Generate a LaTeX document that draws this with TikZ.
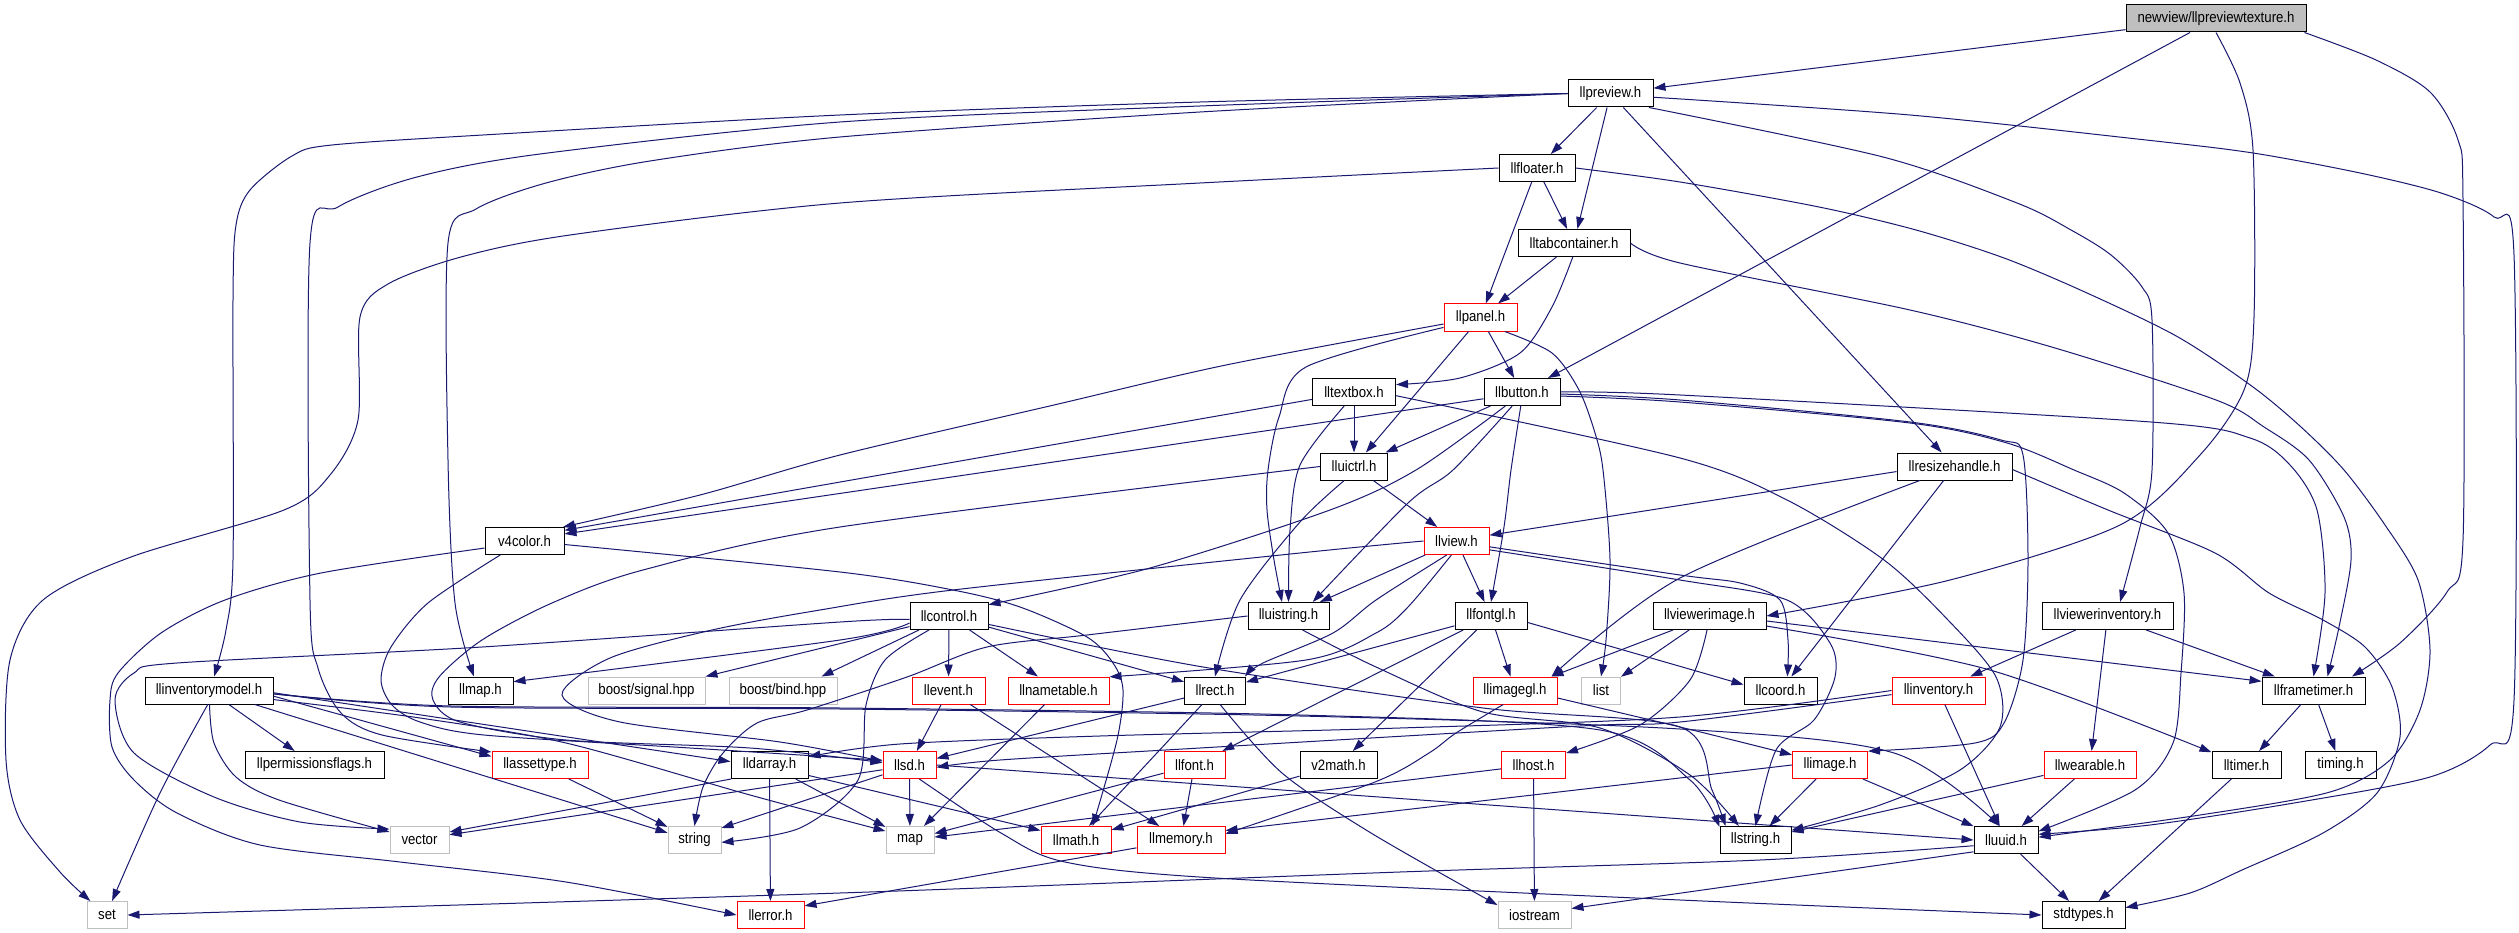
\documentclass[tikz,border=0pt]{standalone}
\usepackage{fontspec}
\newfontfamily\dfont[FakeStretch=0.88]{Liberation Sans}
\usetikzlibrary{arrows.meta}
\definecolor{edgec}{RGB}{25,25,112}
\definecolor{grayb}{RGB}{191,191,191}
\begin{document}
\begin{tikzpicture}[x=1pt,y=-1pt,
  nd/.style={draw=black, line width=1pt, minimum height=27pt, inner sep=0pt, font=\dfont\fontsize{15}{18}\selectfont},
  rn/.style={nd, draw=red},
  gn/.style={nd, draw=grayb},
  e/.style={draw=edgec, line width=1pt, -{Triangle[length=12pt,width=8pt]}}]
\fill[white] (0,0) rectangle (2519,933);
\useasboundingbox (0,0) rectangle (2519,933);
% ---------- nodes ----------
\node[nd, fill=grayb, minimum width=180pt] (root) at (2216,18.5) {newview/llpreviewtexture.h};
\node[nd, minimum width=85pt] (preview) at (1610.5,93.5) {llpreview.h};
\node[nd, minimum width=76pt] (floater) at (1537,168) {llfloater.h};
\node[nd, minimum width=112pt] (tabc) at (1574,243) {lltabcontainer.h};
\node[rn, minimum width=73pt] (panel) at (1480.5,317.5) {llpanel.h};
\node[nd, minimum width=83pt] (textbox) at (1354,392) {lltextbox.h};
\node[nd, minimum width=76pt] (button) at (1522,392) {llbutton.h};
\node[nd, minimum width=67pt] (uictrl) at (1354,466.5) {lluictrl.h};
\node[nd, minimum width=115pt] (resize) at (1954.5,466.5) {llresizehandle.h};
\node[nd, minimum width=79pt] (vfour) at (524.5,541) {v4color.h};
\node[rn, minimum width=65pt] (view) at (1456.5,541) {llview.h};
\node[nd, minimum width=78pt] (control) at (949,616) {llcontrol.h};
\node[nd, minimum width=81pt] (uistring) at (1288.5,616) {lluistring.h};
\node[nd, minimum width=72pt] (fontgl) at (1491,616) {llfontgl.h};
\node[nd, minimum width=113pt] (vimage) at (1709.5,616) {llviewerimage.h};
\node[nd, minimum width=131pt] (vinv) at (2107.5,616) {llviewerinventory.h};
\node[nd, minimum width=128pt] (invmodel) at (209,690.5) {llinventorymodel.h};
\node[nd, minimum width=65pt] (llmap) at (480.5,690.5) {llmap.h};
\node[gn, minimum width=117pt] (bsig) at (646.5,690.5) {boost/signal.hpp};
\node[gn, minimum width=108pt] (bbind) at (783,690.5) {boost/bind.hpp};
\node[rn, minimum width=73pt] (event) at (948.5,690.5) {llevent.h};
\node[rn, minimum width=101pt] (nametable) at (1058.5,690.5) {llnametable.h};
\node[nd, minimum width=61pt] (rect) at (1215,690.5) {llrect.h};
\node[rn, minimum width=84pt] (imagegl) at (1515,690.5) {llimagegl.h};
\node[gn, minimum width=39pt] (list) at (1601,690.5) {list};
\node[nd, minimum width=73pt] (coord) at (1780.5,690.5) {llcoord.h};
\node[rn, minimum width=93pt] (inventory) at (1938.5,690.5) {llinventory.h};
\node[nd, minimum width=103pt] (frametimer) at (2313.5,690.5) {llframetimer.h};
\node[nd, minimum width=139pt] (permflags) at (314.5,765) {llpermissionsflags.h};
\node[rn, minimum width=96pt] (assettype) at (540,765) {llassettype.h};
\node[nd, minimum width=77pt] (darray) at (769.5,765) {lldarray.h};
\node[rn, minimum width=53pt] (llsd) at (909.5,765) {llsd.h};
\node[rn, minimum width=61pt] (font) at (1194.5,765) {llfont.h};
\node[nd, minimum width=77pt] (vtwo) at (1338.5,765) {v2math.h};
\node[rn, minimum width=64pt] (host) at (1533.5,765) {llhost.h};
\node[rn, minimum width=75pt] (image) at (1830,765) {llimage.h};
\node[rn, minimum width=92pt] (wearable) at (2090,765) {llwearable.h};
\node[nd, minimum width=69pt] (timer) at (2246.5,765) {lltimer.h};
\node[nd, minimum width=71pt] (timing) at (2340.5,765) {timing.h};
\node[gn, minimum width=59pt] (vector) at (419.5,840) {vector};
\node[gn, minimum width=53pt] (string) at (694.5,840) {string};
\node[gn, minimum width=48pt] (map) at (910,840) {map};
\node[rn, minimum width=70pt] (math) at (1076,840) {llmath.h};
\node[rn, minimum width=88pt] (memory) at (1181,840) {llmemory.h};
\node[nd, minimum width=71pt] (llstring) at (1755.5,840) {llstring.h};
\node[nd, minimum width=64pt] (uuid) at (2006,840) {lluuid.h};
\node[gn, minimum width=40pt] (set) at (107,915) {set};
\node[rn, minimum width=67pt] (error) at (770.5,915) {llerror.h};
\node[gn, minimum width=73pt] (iostream) at (1534.5,915) {iostream};
\node[nd, minimum width=83pt] (stdtypes) at (2083.5,915) {stdtypes.h};
% ---------- edges ----------
% root
\draw[e] (root) -- (preview);
\draw[e] (root) -- (button);
\draw[e] plot[smooth] coordinates {(root.south) (2240,83) (2253,150) (2254,317) (2244,390) (2200,455) (2120,525) (1950,580) (vimage.east)};
\draw[e] plot[smooth] coordinates {(root.-9.7) (2376,60) (2430,92) (2458,140) (2463,200) (2463,540) (2447,592) (2400,643) (frametimer.20)};
% preview
\draw[e] (preview) -- (floater);
\draw[e] (preview) -- (tabc);
\draw[e] (preview) -- (resize);
\draw[e] plot[smooth] coordinates {(preview.-5) (1910,115) (2146,140) (2253,153) (2360,173) (2441,193) (2494,217) (2514,255) (2514,700) (2490,745) (2430,777) (2300,802) (2150,825) (uuid.10)};
\draw[e] plot[smooth] coordinates {(preview.-20) (1883,157) (2017,203) (2071,230) (2111,255) (2142,287) (2152,320) (2152,470) (2140,527) (vinv.48)};
\draw[e] plot[smooth] coordinates {(preview.west) (1200,102) (840,115) (500,134) (332,145) (292,156) (250,190) (236,225) (233,300) (233,560) (226,630) (invmodel.70)};
\draw[e] plot[smooth] coordinates {(preview.west) (1200,106) (840,122) (540,154) (417,177) (338,207) (310,243) (310,600) (318,668) (341,713) (382,735) (assettype.165)};
\draw[e] plot[smooth] coordinates {(preview.west) (1200,112) (840,137) (650,161) (546,183) (476,209) (448,243) (448,460) (455,603) (llmap.115)};
% floater
\draw[e] (floater) -- (panel);
\draw[e] (floater) -- (tabc);
\draw[e] plot[smooth] coordinates {(floater.west) (1200,183) (840,203) (570,235) (461,257) (388,284) (360,317) (358,420) (330,475) (284,510) (131,557) (43,600) (10,660) (6,760) (20,820) (60,872) (set.140)};
\draw[e] plot[smooth] coordinates {(floater.east) (1680,182) (1819,207) (1916,230) (2004,258) (2087,293) (2178,337) (2253,387) (2301,427) (2344,470) (2385,525) (2418,580) (2430,650) (2420,710) (2390,760) (2330,792) (2200,815) (uuid.5)};
% tabcontainer
\draw[e] (tabc) -- (panel);
\draw[e] plot[smooth] coordinates {(tabc.-95) (1552,307) (1520,353) (1460,378) (textbox.10)};
\draw[e] plot[smooth] coordinates {(tabc.east) (1680,263) (1910,310) (2055,348) (2216,400) (2264,427) (2309,460) (2344,517) (2351,560) (2339,627) (frametimer.45)};
% panel
\draw[e] (panel) -- (uictrl);
\draw[e] (panel) -- (button);
\draw[e] plot[smooth] coordinates {(panel.-30) (1552,353) (1579,390) (1595,433) (1603,470) (1610,560) (1606,640) (list.north)};
\draw[e] plot[smooth] coordinates {(panel.190) (1226,365) (1054,405) (840,455) (700,495) (vfour.20)};
\draw[e] plot[smooth] coordinates {(panel.195) (1306,367) (1279,417) (1268,470) (1267,510) (1274,560) (uistring.115)};
% textbox
\draw[e] (textbox) -- (uictrl);
\draw[e] plot[smooth] coordinates {(textbox.-125) (1300,465) (1290,530) (uistring.north)};
\draw[e] (textbox.190) -- (vfour.15);
\draw[e] plot[smooth] coordinates {(textbox.-5) (1680,458) (1787,500) (1884,560) (1948,620) (1996,677) (2000,727) (1960,770) (1880,805) (llstring.15)};
% button
\draw[e] (button) -- (uictrl);
\draw[e] plot[smooth] coordinates {(button.-140) (1416,470) (1330,510) (1150,568) (control.16)};
\draw[e] plot[smooth] coordinates {(button.-125) (1453,470) (1408,503) (uistring.30)};
\draw[e] plot[smooth] coordinates {(button.-95) (1511,470) (1504,527) (fontgl.north)};
\draw[e] (button.-170) -- (vfour.10);
\draw[e] plot[smooth] coordinates {(button.east) (1680,395) (2151,422) (2250,438) (2290,465) (2317,510) (2325,593) (frametimer.north)};
\draw[e] plot[smooth] coordinates {(button.-3) (1680,400) (1910,422) (2001,440) (2023,455) (2028,560) (2023,660) (2004,723) (1975,743) (image.20)};
\draw[e] plot[smooth] coordinates {(button.-6) (1680,402) (1910,423) (2007,443) (2074,470) (2124,493) (2168,533) (2184,593) (2181,673) (2173,743) (2135,790) (uuid.15)};
% uictrl
\draw[e] (uictrl) -- (view);
\draw[e] plot[smooth] coordinates {(uictrl.-125) (1300,522) (1240,600) (rect.north)};
\draw[e] plot[smooth] coordinates {(uictrl.west) (840,527) (643,570) (552,603) (482,640) (439,677) (433,700) (460,722) (566,740) (750,748) (llsd.175)};
% resize
\draw[e] (resize.-175) -- (view.10);
\draw[e] plot[smooth] coordinates {(resize.-158) (1680,578) (imagegl.21)};
\draw[e] (resize) -- (coord);
\draw[e] plot[smooth] coordinates {(resize.-3) (2108,510) (2215,553) (2269,593) (2323,620) (2365,647) (2392,687) (2400,737) (2377,793) (2323,833) (2242,870) (2190,893) (stdtypes.10)};
% v4color
\draw[e] plot[smooth] coordinates {(vfour.190) (321,573) (225,600) (161,633) (118,673) (110,700) (112,747) (134,780) (177,813) (260,845) (400,862) (566,882) (error.west)};
\draw[e] plot[smooth] coordinates {(vfour.-5) (840,572) (953,590) (1020,607) (1087,637) (1113,663) (1123,690) (1117,740) (math.40)};
\draw[e] plot[smooth] coordinates {(vfour.-150) (428,603) (391,647) (381,680) (392,705) (420,722) (484,735) (690,748) (llsd.170)};
% view
\draw[e] (view) -- (uistring);
\draw[e] (view) -- (fontgl);
\draw[e] plot[smooth] coordinates {(view.-125) (1376,600) (1333,633) (1263,663) (rect.25)};
\draw[e] plot[smooth] coordinates {(view.-110) (1408,607) (1376,633) (1306,660) (nametable.15)};
\draw[e] plot[smooth] coordinates {(view.-10) (1680,575) (1740,583) (1780,600) (1788,640) (coord.64)};
\draw[e] plot[smooth] coordinates {(view.-15) (1680,580) (1787,600) (1830,643) (1835,677) (1814,720) (1776,750) (llstring.north)};
\draw[e] plot[smooth] coordinates {(view.west) (1300,553) (953,590) (820,610) (712,630) (610,658) (562,695) (620,722) (780,742) (llsd.172)};
% control
\draw[e] (control) -- (event);
\draw[e] (control) -- (nametable);
\draw[e] (control) -- (rect);
\draw[e] plot[smooth] coordinates {(control.-12) (1203,667) (1483,708) (1680,727) (1712,790) (llstring.155)};
\draw[e] plot[smooth] coordinates {(control.190) (840,640) (llmap.15)};
\draw[e] (control.195) -- (bsig.north east);
\draw[e] (control.-155) -- (bbind.20);
\draw[e] plot[smooth] coordinates {(control.185) (840,622) (482,647) (177,663) (134,673) (115,700) (134,753) (214,797) (300,822) (vector.160)};
\draw[e] plot[smooth] coordinates {(control.-145) (885,660) (866,705) (858,780) (800,828) (string.-5)};
% uistring
\draw[e] plot[smooth] coordinates {(uistring.west) (1087,635) (987,647) (907,677) (807,710) (757,723) (723,753) (703,787) (string.north)};
\draw[e] plot[smooth] coordinates {(uistring.-45) (1376,667) (1483,712) (1600,728) (1690,775) (llstring.140)};
% event, nametable, rect
\draw[e] (event) -- (llsd);
\draw[e] (event) -- (memory);
\draw[e] (nametable) -- (map);
\draw[e] (rect) -- (llsd);
\draw[e] (rect) -- (math);
\draw[e] plot[smooth] coordinates {(rect.-70) (1282,773) (1371,833) (iostream.165)};
% fontgl
\draw[e] (fontgl) -- (rect);
\draw[e] (fontgl) -- (imagegl);
\draw[e] (fontgl) -- (font);
\draw[e] (fontgl) -- (vtwo);
\draw[e] (fontgl.-10) -- (coord.171);
% viewerimage
\draw[e] (vimage) -- (imagegl);
\draw[e] (vimage) -- (list);
\draw[e] plot[smooth] coordinates {(vimage.-100) (1690,680) (1640,725) (host.20)};
\draw[e] (vimage.-5) -- (frametimer.170);
\draw[e] plot[smooth] coordinates {(vimage.-10) (1990,670) (timer.160)};
% viewerinventory
\draw[e] (vinv) -- (inventory);
\draw[e] (vinv) -- (wearable);
\draw[e] (vinv) -- (frametimer);
% inventory
\draw[e] plot[smooth] coordinates {(inventory.west) (1680,717) (1400,728) (1100,736) (900,744) (darray.12)};
\draw[e] (inventory) -- (uuid);
\draw[e] plot[smooth] coordinates {(inventory.185) (1680,722) (1580,726) (1200,748) (1000,760) (llsd.-5)};
% imagegl
\draw[e] plot[smooth] coordinates {(imagegl.-10) (1680,727) (image.165)};
\draw[e] plot[smooth] coordinates {(imagegl.-130) (1456,733) (1429,753) (1375,782) (memory.8)};
% image
\draw[e] (image) -- (llstring);
\draw[e] (image) -- (uuid);
\draw[e] (image.west) -- (memory.12);
% wearable
\draw[e] (wearable) -- (llstring);
\draw[e] (wearable) -- (uuid);
% frametimer, timer
\draw[e] (frametimer) -- (timer);
\draw[e] (frametimer) -- (timing);
\draw[e] (timer) -- (stdtypes);
% uuid
\draw[e] (uuid) -- (stdtypes);
\draw[e] plot[smooth] coordinates {(uuid.190) (1760,860) (1400,872) (840,893) (set.east)};
\draw[e] (uuid.200) -- (iostream.10);
% llsd
\draw[e] (llsd) -- (map);
\draw[e] plot[smooth] coordinates {(llsd.-55) (1001,833) (1065,862) (1215,878) (1680,900) (stdtypes.west)};
\draw[e] (llsd.190) -- (vector.10);
\draw[e] (llsd.-160) -- (string.24);
\draw[e] (llsd.east) -- (uuid.west);
% darray
\draw[e] (darray) -- (error);
\draw[e] (darray.-160) -- (vector.15);
\draw[e] (darray) -- (map);
\draw[e] (darray.-15) -- (math.165);
% inventorymodel
\draw[e] plot[smooth] coordinates {(invmodel.-95) (160,793) (set.70)};
\draw[e] (invmodel) -- (permflags);
\draw[e] plot[smooth] coordinates {(invmodel.-88) (214,743) (236,777) (279,800) (vector.165)};
\draw[e] (invmodel.-17) -- (string.165);
\draw[e] (invmodel.-5) -- (assettype.170);
\draw[e] (invmodel.-2) -- (darray.175);
\draw[e] plot[smooth] coordinates {(invmodel.-8) (420,718) (566,743) (750,795) (map.160)};
\draw[e] plot[smooth] coordinates {(invmodel.-3) (451,706) (840,708) (1300,715) (1600,730) (1690,780) (llstring.160)};
\draw[e] plot[smooth] coordinates {(invmodel.-3) (451,707) (840,709) (1300,716) (1680,729) (1894,753) (uuid.115)};
% others
\draw[e] (assettype) -- (string);
\draw[e] (vtwo) -- (math);
\draw[e] (font) -- (memory);
\draw[e] (font) -- (map);
\draw[e] (host) -- (iostream);
\draw[e] (host) -- (map);
\draw[e] (memory.190) -- (error.15);
\end{tikzpicture}
\end{document}
